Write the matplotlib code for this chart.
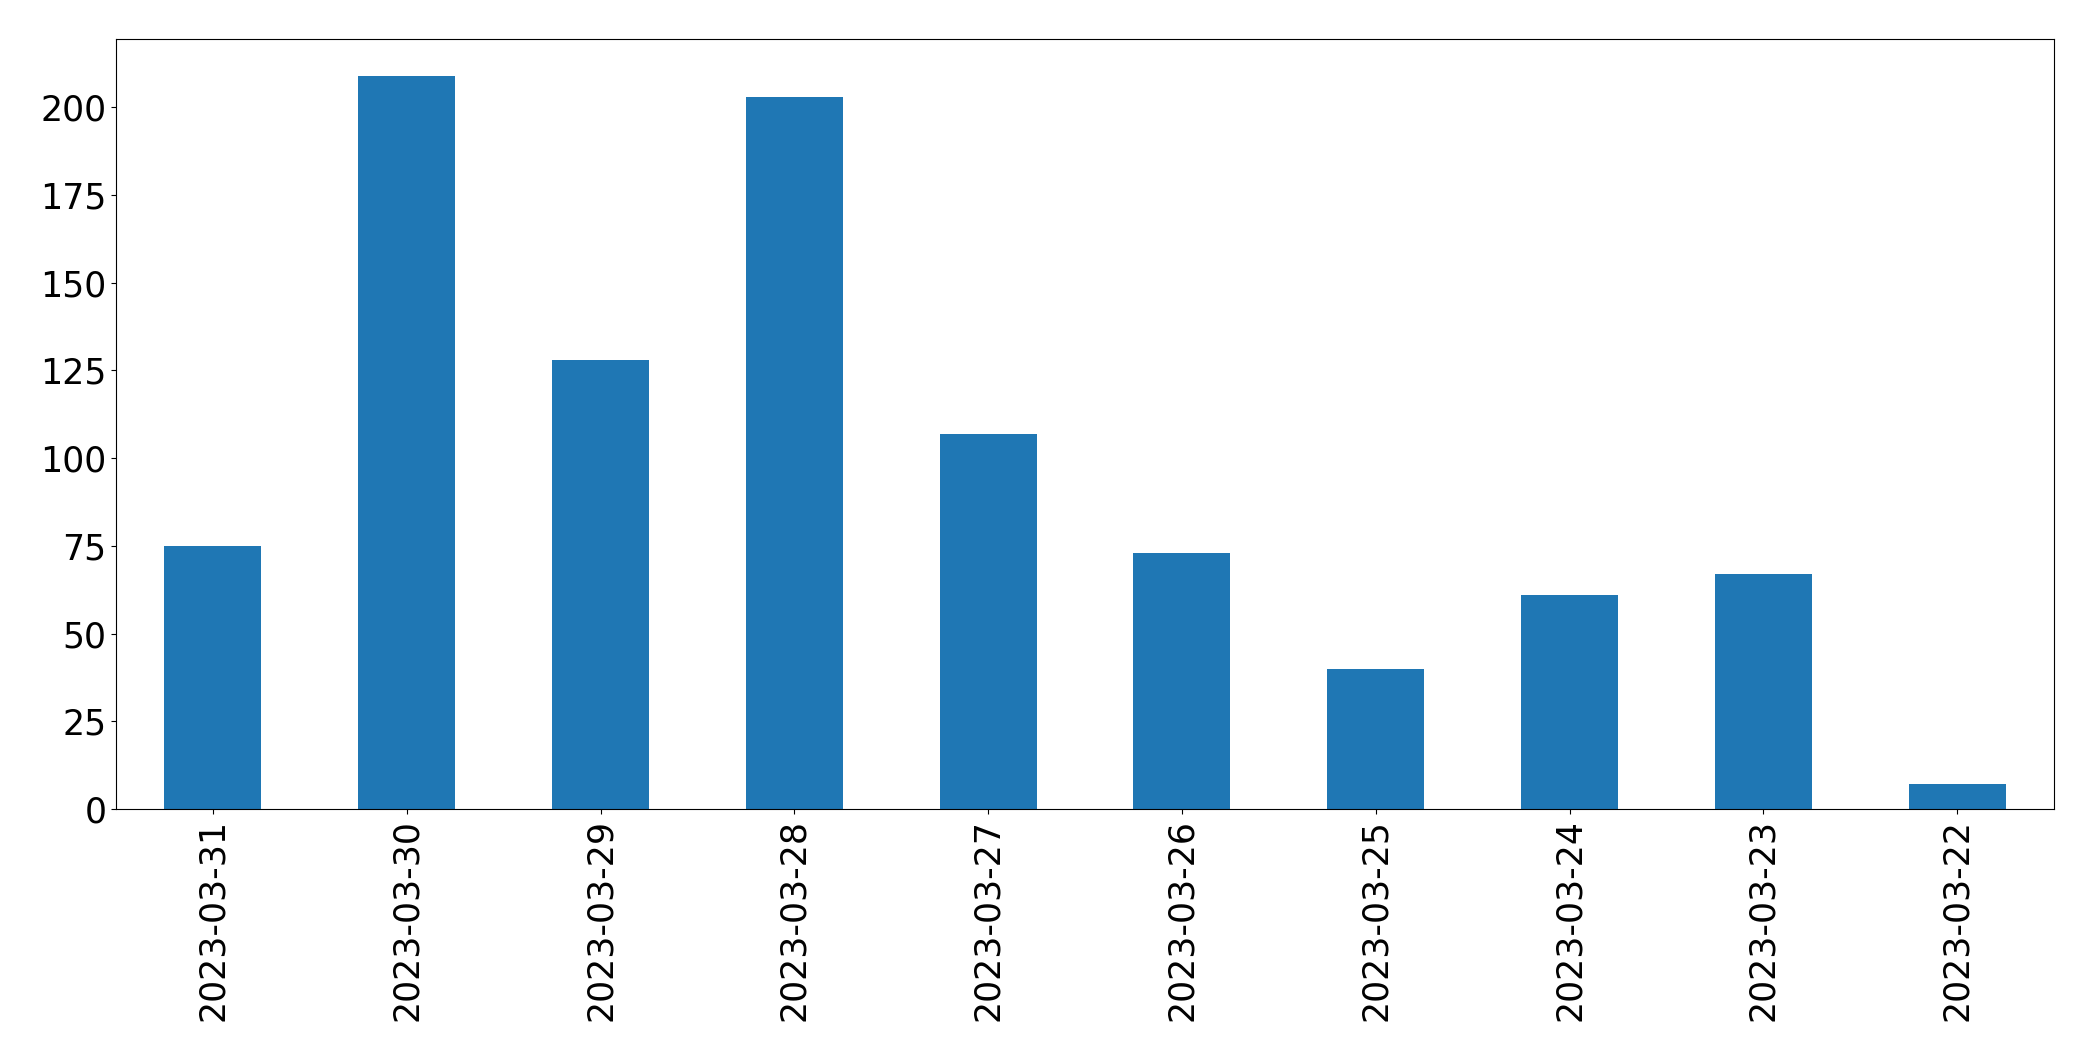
import matplotlib
matplotlib.use('Agg')
import matplotlib.pyplot as plt
import pandas as pd

dates = ["2023-03-31", "2023-03-30", "2023-03-29", "2023-03-28", "2023-03-27",
         "2023-03-26", "2023-03-25", "2023-03-24", "2023-03-23", "2023-03-22"]
counts = [75, 209, 128, 203, 107, 73, 40, 61, 67, 7]

s = pd.Series(counts, index=dates)

fig = plt.figure(figsize=(20.93, 10.61), dpi=100)
ax = fig.add_axes([116 / 2093, 1 - 809 / 1061, (2054 - 116) / 2093, (809 - 39) / 1061])
s.plot(kind="bar", ax=ax, color="#1f77b4")
ax.tick_params(axis="both", labelsize=25)
plt.savefig("out.png", dpi=100)
plt.close()
